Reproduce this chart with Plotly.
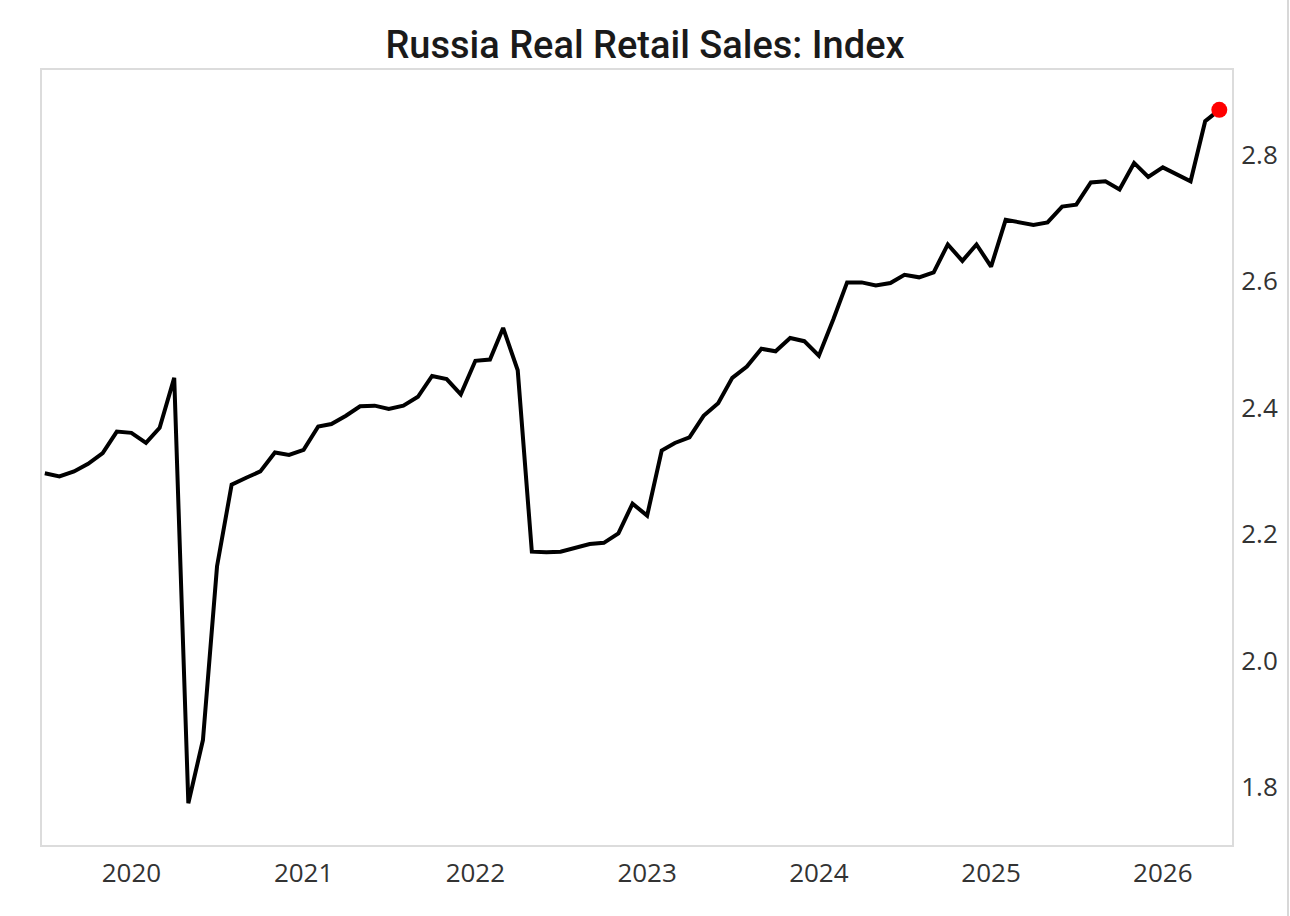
import pandas as pd
import plotly.graph_objects as go

# Monthly index values, 2019-07 .. 2026-05
start_month = "2019-07-01"
values = [
    2.296, 2.291, 2.299, 2.311, 2.328, 2.362,            # 2019 H2
    2.360, 2.344, 2.368, 2.447, 1.774, 1.874,            # 2020
    2.149, 2.278, 2.289, 2.299, 2.329, 2.325,
    2.333, 2.370, 2.374, 2.387, 2.402, 2.403,            # 2021
    2.398, 2.403, 2.417, 2.450, 2.445, 2.421,
    2.474, 2.476, 2.526, 2.459, 2.172, 2.171,            # 2022
    2.172, 2.178, 2.184, 2.186, 2.201, 2.248,
    2.229, 2.332, 2.344, 2.353, 2.387, 2.407,            # 2023
    2.447, 2.465, 2.493, 2.489, 2.510, 2.505,
    2.482, 2.540, 2.598, 2.598, 2.593, 2.597,            # 2024
    2.610, 2.606, 2.614, 2.658, 2.632, 2.658,
    2.623, 2.697, 2.693, 2.689, 2.693, 2.718,            # 2025
    2.721, 2.756, 2.758, 2.745, 2.787, 2.765,
    2.780, 2.769, 2.758, 2.853, 2.871,                   # 2026
]
dates = pd.date_range(start_month, periods=len(values), freq="MS")

year_ticks = pd.to_datetime([f"{y}-01-01" for y in range(2020, 2027)])
year_labels = [str(y) for y in range(2020, 2027)]
y_ticks = [1.8, 2.0, 2.2, 2.4, 2.6, 2.8]
y_labels = ["1.8", "2.0", "2.2", "2.4", "2.6", "2.8"]

title_text = "Russia Real Retail Sales: Index"

fig = go.Figure()
fig.add_trace(go.Scatter(
    x=dates, y=values, mode="lines",
    line=dict(color="black", width=4),
    showlegend=False, hoverinfo="x+y",
))
fig.add_trace(go.Scatter(
    x=[dates[-1]], y=[values[-1]], mode="markers",
    marker=dict(color="#ff0000", size=16),
    showlegend=False,
))

border = "#dcdcdc"
fig.update_layout(
    width=1290, height=916,
    margin=dict(l=42, r=58, t=70, b=71),
    paper_bgcolor="white", plot_bgcolor="white",
    title=dict(text=title_text, x=0.5, xanchor="center",
               y=1 - 45 / 916, yref="container", yanchor="middle",
               font=dict(family="Roboto", size=38, color="#1a1a1a", weight=500)),
    font=dict(family="Open Sans", size=26, color="#333333"),
    shapes=[dict(type="line", xref="paper", yref="paper",
                 x0=(1288 - 42) / 1190, x1=(1288 - 42) / 1190,
                 y0=-71 / 775, y1=1 + 70 / 775,
                 line=dict(color="#d8d8d8", width=2))],
)
fig.update_xaxes(
    range=[pd.Timestamp("2019-06-25"), pd.Timestamp("2026-05-28")],
    tickvals=year_ticks, ticktext=year_labels,
    showgrid=False, zeroline=False,
    showline=True, mirror=True, linecolor=border, linewidth=2,
    ticks="", ticklabelstandoff=4,
)
fig.update_yaxes(
    range=[1.708, 2.934], side="right",
    tickvals=y_ticks, ticktext=y_labels,
    showgrid=False, zeroline=False,
    showline=True, mirror=True, linecolor=border, linewidth=2,
    ticks="", ticklabelstandoff=2,
)

fig.write_html("out.html")
